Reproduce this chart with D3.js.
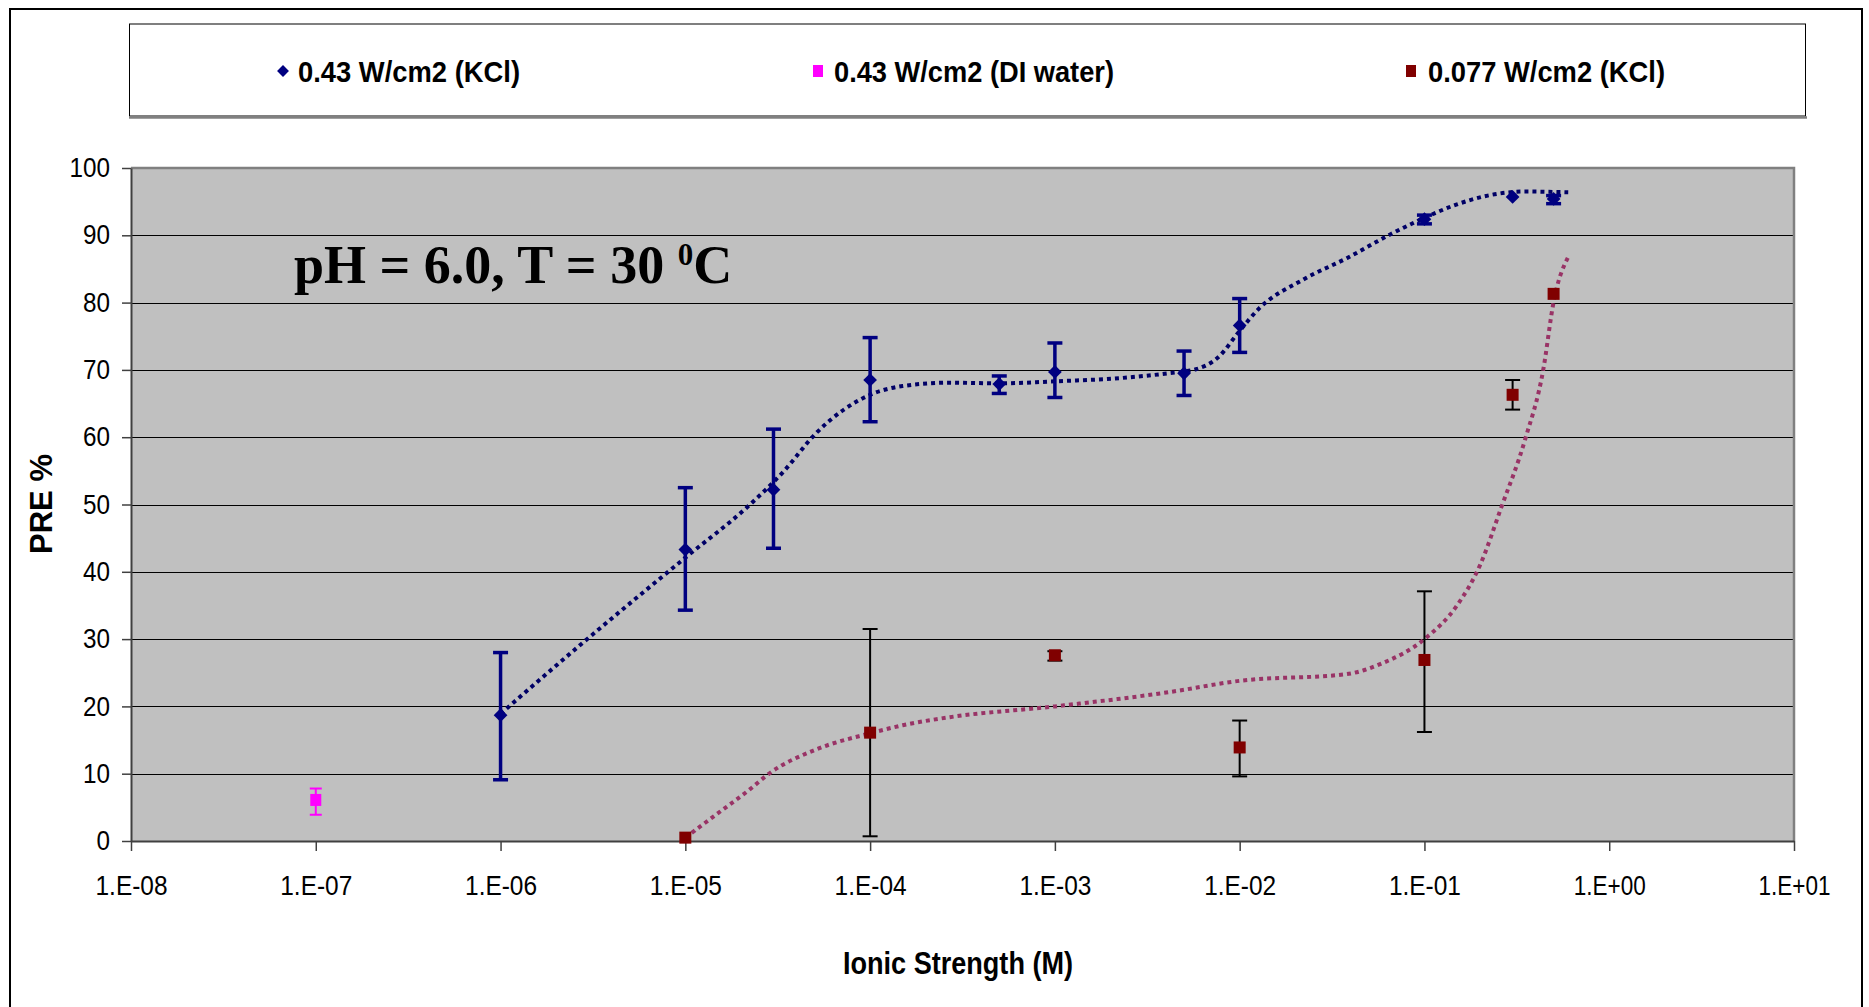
<!DOCTYPE html>
<html>
<head>
<meta charset="utf-8">
<script src="https://cdn.jsdelivr.net/npm/d3@7"></script>
<style>
  html, body { margin: 0; padding: 0; background: #fff; }
  svg { display: block; font-family: "Liberation Sans", Arial, sans-serif; }
</style>
</head>
<body>
<svg id="chart" width="1869" height="1007"></svg>
<script>
// ---------------- DATA ----------------
const seriesNames = ["0.43 W/cm2 (KCl)", "0.43 W/cm2 (DI water)", "0.077 W/cm2 (KCl)"];

// 0.43 W/cm2 (KCl): ionic strength, PRE %, error low, error high
const kclHighX   = [1e-6, 1e-5, 3e-5, 1e-4, 5e-4, 1e-3, 5e-3, 1e-2, 1e-1, 3e-1, 5e-1];
const kclHighY   = [18.7, 43.3, 52.2, 68.5, 67.9, 69.7, 69.5, 76.6, 92.4, 95.7, 95.4];
const kclHighLo  = [9.1, 34.3, 43.5, 62.3, 66.5, 65.9, 66.2, 72.6, 91.7, null, 94.7];
const kclHighHi  = [28.0, 52.5, 61.2, 74.8, 69.1, 74.0, 72.8, 80.6, 93.0, null, 95.9];

// 0.43 W/cm2 (DI water)
const diX  = [1e-7];
const diY  = [6.1];
const diLo = [3.9];
const diHi = [7.8];

// 0.077 W/cm2 (KCl)
const kclLowX  = [1e-5, 1e-4, 1e-3, 1e-2, 1e-1, 3e-1, 5e-1];
const kclLowY  = [0.5, 16.1, 27.6, 13.9, 26.9, 66.3, 81.3];
const kclLowLo = [null, 0.7, 26.8, 9.6, 16.2, 64.1, null];
const kclLowHi = [null, 31.5, 28.2, 17.9, 37.1, 68.5, null];

// Trend lines
const trendHighX = [1e-6, 2.8e-6, 1e-5, 2.2e-5, 3.4e-5, 5.1e-5, 1e-4, 1.5e-4, 2.7e-4, 5e-4, 1e-3, 2.3e-3, 4.1e-3, 5.8e-3, 7.6e-3, 1e-2, 1.26e-2, 2.2e-2, 3.8e-2, 6.6e-2, 1e-1, 1.5e-1, 2.2e-1, 3.5e-1, 6e-1];
const trendHighY = [18.9, 29.5, 42.1, 49.8, 54.9, 60.6, 66.3, 67.6, 68.1, 68.0, 68.3, 68.8, 69.5, 70.1, 71.8, 75.8, 79.0, 83.4, 86.6, 90.2, 92.6, 94.6, 95.9, 96.5, 96.4];
const trendLowX  = [1e-5, 1.48e-5, 2.24e-5, 2.8e-5, 5.1e-5, 1e-4, 1.5e-4, 2.7e-4, 1e-3, 4.1e-3, 1e-2, 3.8e-2, 5.9e-2, 1e-1, 1.5e-1, 2e-1, 2.6e-1, 3.5e-1, 4.4e-1, 5e-1, 6e-1];
const trendLowY  = [0.5, 4.0, 7.7, 9.9, 13.6, 16.0, 17.2, 18.4, 20.0, 22.1, 23.8, 24.8, 26.4, 30.0, 35.0, 41.0, 49.5, 59.6, 70.1, 80.1, 86.8];

const xTickValues = [1e-8, 1e-7, 1e-6, 1e-5, 1e-4, 1e-3, 1e-2, 1e-1, 1e0, 1e1];
const xTickLabels = ["1.E-08", "1.E-07", "1.E-06", "1.E-05", "1.E-04", "1.E-03", "1.E-02", "1.E-01", "1.E+00", "1.E+01"];
const yTickValues = [0, 10, 20, 30, 40, 50, 60, 70, 80, 90, 100];

const xTitle = "Ionic Strength (M)";
const yTitle = "PRE %";

// ---------------- LAYOUT ----------------
const svg = d3.select("#chart");
const plot = { left: 131, right: 1794, top: 168, bottom: 841 };

const x = d3.scaleLog().domain([1e-8, 10]).range([plot.left, plot.right]);
const y = d3.scaleLinear().domain([0, 100]).range([plot.bottom, plot.top]);

const navy = "#000080";
const trendNavy = "#000066";
const darkRed = "#800000";
const plum = "#993366";
const magenta = "#FF00FF";

// outer frame
svg.append("rect").attr("x", 10).attr("y", 9).attr("width", 1852).attr("height", 1030)
  .attr("fill", "#fff").attr("stroke", "#000").attr("stroke-width", 2);

// legend box
svg.append("rect").attr("x", 129.5).attr("y", 24).attr("width", 1676).attr("height", 92)
  .attr("fill", "#fff").attr("stroke", "#000").attr("stroke-width", 1);
svg.append("line").attr("x1", 129).attr("x2", 1807).attr("y1", 117.5).attr("y2", 117.5)
  .attr("stroke", "#808080").attr("stroke-width", 2.5);

const legendItems = [
  { name: seriesNames[0], color: navy, shape: "diamond", mx: 283, tx: 298, tl: 222 },
  { name: seriesNames[1], color: magenta, shape: "square", mx: 818, tx: 834, tl: 280 },
  { name: seriesNames[2], color: darkRed, shape: "square", mx: 1411, tx: 1428, tl: 237 }
];
const legendY = 71;
legendItems.forEach(it => {
  if (it.shape === "diamond") {
    svg.append("path").attr("d", d3.symbol(d3.symbolDiamond2, 90)())
      .attr("transform", `translate(${it.mx},${legendY})`).attr("fill", it.color);
  } else {
    svg.append("rect").attr("x", it.mx - 5).attr("y", legendY - 6).attr("width", 10).attr("height", 12)
      .attr("fill", it.color);
  }
  svg.append("text").attr("x", it.tx).attr("y", legendY + 11)
    .style("font-size", "30px").style("font-weight", "bold").attr("fill", "#000")
    .attr("textLength", it.tl).attr("lengthAdjust", "spacingAndGlyphs")
    .text(it.name);
});

// plot background
svg.append("rect").attr("x", plot.left).attr("y", plot.top)
  .attr("width", plot.right - plot.left).attr("height", plot.bottom - plot.top)
  .attr("fill", "#C0C0C0");

// gridlines
svg.append("g").selectAll("line").data(yTickValues.filter(v => v > 0 && v < 100)).join("line")
  .attr("x1", plot.left).attr("x2", plot.right)
  .attr("y1", d => Math.round(y(d)) + 0.5).attr("y2", d => Math.round(y(d)) + 0.5)
  .attr("stroke", "#000").attr("stroke-width", 1);

// plot border top/right (gray)
svg.append("path")
  .attr("d", `M${plot.left},${plot.top} H${plot.right} V${plot.bottom}`)
  .attr("fill", "none").attr("stroke", "#808080").attr("stroke-width", 2.5);

// axes
const yAxis = d3.axisLeft(y).tickValues(yTickValues).tickSize(9).tickPadding(12).tickSizeOuter(0);
const gy = svg.append("g").attr("transform", `translate(${plot.left},0)`).call(yAxis);
gy.select(".domain").attr("stroke", "#404040").attr("stroke-width", 2);
gy.selectAll(".tick line").attr("stroke", "#404040").attr("stroke-width", 1.5);
gy.selectAll(".tick text").style("font-size", "27px").style("font-family", "'Liberation Sans', Arial, sans-serif")
  .attr("fill", "#000")
  .attr("textLength", d => String(d).length * 13.5).attr("lengthAdjust", "spacingAndGlyphs");

const xAxis = d3.axisBottom(x).tickValues(xTickValues)
  .tickFormat((d, i) => xTickLabels[i]).tickSize(10).tickSizeOuter(0);
const gx = svg.append("g").attr("transform", `translate(0,${plot.bottom})`).call(xAxis);
gx.select(".domain").attr("stroke", "#404040").attr("stroke-width", 2);
gx.selectAll(".tick line").attr("stroke", "#404040").attr("stroke-width", 1.5);
gx.selectAll(".tick text").style("font-size", "27px").style("font-family", "'Liberation Sans', Arial, sans-serif")
  .attr("fill", "#000")
  .attr("y", 45).attr("dy", "0.35em")
  .attr("textLength", 72).attr("lengthAdjust", "spacingAndGlyphs");

// axis titles
svg.append("text").attr("x", 958).attr("y", 974).attr("text-anchor", "middle")
  .style("font-size", "31px").style("font-weight", "bold")
  .attr("textLength", 230).attr("lengthAdjust", "spacingAndGlyphs").text(xTitle);
svg.append("text").attr("transform", "translate(41,504) rotate(-90)")
  .attr("text-anchor", "middle").attr("dominant-baseline", "central")
  .style("font-size", "31px").style("font-weight", "bold").text(yTitle);

// annotation
const ann = svg.append("text").attr("x", 294).attr("y", 283)
  .style("font-family", "'Liberation Serif', 'Times New Roman', serif")
  .style("font-size", "54px").style("font-weight", "bold").attr("fill", "#000");
ann.append("tspan").text("pH = 6.0, T = 30 ");
ann.append("tspan").style("font-size", "31px").attr("dy", -18).text("0");
ann.append("tspan").attr("dy", 18).text("C");

// trend lines
const line = d3.line().x(d => x(d[0])).y(d => y(d[1])).curve(d3.curveMonotoneX);
svg.append("path").datum(trendLowX.map((v, i) => [v, trendLowY[i]]))
  .attr("d", line).attr("fill", "none").attr("stroke", plum)
  .attr("stroke-width", 4).attr("stroke-dasharray", "4,4");
svg.append("path").datum(trendHighX.map((v, i) => [v, trendHighY[i]]))
  .attr("d", line).attr("fill", "none").attr("stroke", trendNavy)
  .attr("stroke-width", 4).attr("stroke-dasharray", "4,4");

// error bars
function errorBars(xs, los, his, color, width, cap) {
  const g = svg.append("g").attr("stroke", color).attr("stroke-width", width);
  xs.forEach((xv, i) => {
    if (los[i] == null) return;
    const cx = x(xv);
    g.append("line").attr("x1", cx).attr("x2", cx).attr("y1", y(los[i])).attr("y2", y(his[i]));
    g.append("line").attr("x1", cx - cap / 2).attr("x2", cx + cap / 2).attr("y1", y(los[i])).attr("y2", y(los[i]));
    g.append("line").attr("x1", cx - cap / 2).attr("x2", cx + cap / 2).attr("y1", y(his[i])).attr("y2", y(his[i]));
  });
}
errorBars(kclLowX, kclLowLo, kclLowHi, "#000", 2, 15);
errorBars(diX, diLo, diHi, magenta, 2, 12);
errorBars(kclHighX, kclHighLo, kclHighHi, navy, 3.5, 15);

// markers
svg.append("g").selectAll("rect").data(kclLowX.map((v, i) => [v, kclLowY[i]])).join("rect")
  .attr("x", d => x(d[0]) - 6).attr("y", d => y(d[1]) - 6).attr("width", 12).attr("height", 12)
  .attr("fill", darkRed);
svg.append("g").selectAll("rect").data(diX.map((v, i) => [v, diY[i]])).join("rect")
  .attr("x", d => x(d[0]) - 5.5).attr("y", d => y(d[1]) - 6).attr("width", 11).attr("height", 12)
  .attr("fill", magenta);
svg.append("g").selectAll("path").data(kclHighX.map((v, i) => [v, kclHighY[i]])).join("path")
  .attr("d", d3.symbol(d3.symbolDiamond2, 120)())
  .attr("transform", d => `translate(${x(d[0])},${y(d[1])})`)
  .attr("fill", navy);
</script>
</body>
</html>
